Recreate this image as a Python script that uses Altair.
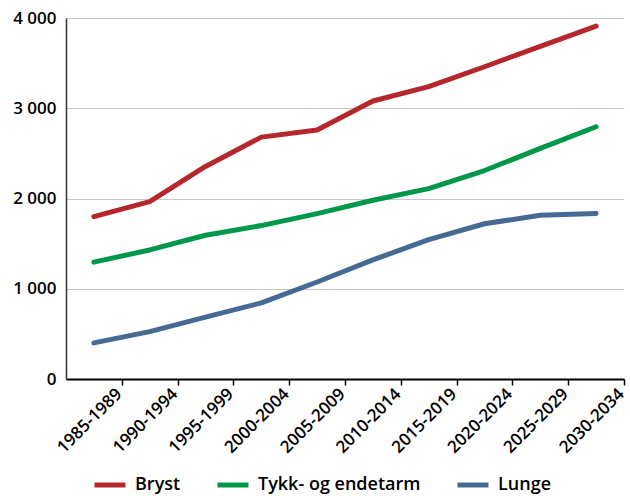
import altair as alt
import pandas as pd

# Five-year periods on the x axis
periods = [
    "1985-1989", "1990-1994", "1995-1999", "2000-2004", "2005-2009",
    "2010-2014", "2015-2019", "2020-2024", "2025-2029", "2030-2034",
]

# New cases per period, by cancer site
bryst = [1800, 1965, 2355, 2680, 2760, 3080, 3240, 3460, 3685, 3910]
tykk = [1295, 1430, 1593, 1700, 1833, 1980, 2110, 2310, 2555, 2795]
lunge = [400, 525, 686, 843, 1075, 1320, 1545, 1720, 1815, 1835]

series_names = ["Bryst", "Tykk- og endetarm", "Lunge"]
series_colors = ["#b5272d", "#00974a", "#456a93"]

rows = []
for name, values in zip(series_names, [bryst, tykk, lunge]):
    for p, v in zip(periods, values):
        rows.append({"periode": p, "antall": v, "type": name})
df = pd.DataFrame(rows)

FONT = "Open Sans"
PLOT_W = 558
PLOT_H = 361
STEP = PLOT_W / len(periods)

chart = (
    alt.Chart(df)
    .mark_line(strokeWidth=5, strokeCap="round", strokeJoin="round")
    .encode(
        x=alt.X(
            "periode:N",
            sort=periods,
            scale=alt.Scale(type="point", padding=0.5),
            axis=alt.Axis(
                title=None,
                labelAngle=-45,
                labelAlign="right",
                labelBaseline="middle",
                labelFont=FONT,
                labelFontSize=17,
                labelFontWeight=600,
                labelColor="#000000",
                labelPadding=6,
                labelOffset=-3,
                labelLimit=0,
                tickOffset=STEP / 2,
                tickSize=6,
                tickWidth=1.5,
                tickColor="#000000",
                domainColor="#000000",
                domainWidth=2,
                grid=False,
            ),
        ),
        y=alt.Y(
            "antall:Q",
            scale=alt.Scale(domain=[0, 4000], nice=False),
            axis=alt.Axis(
                title=None,
                values=[0, 1000, 2000, 3000, 4000],
                labelExpr="replace(format(datum.value, ','), ',', ' ')",
                labelFont=FONT,
                labelFontSize=17,
                labelFontWeight=600,
                labelColor="#000000",
                labelPadding=10,
                ticks=False,
                domainColor="#333333",
                domainWidth=1.5,
                grid=True,
                gridColor="#c8c8c8",
                gridWidth=1,
            ),
        ),
        color=alt.Color(
            "type:N",
            sort=series_names,
            scale=alt.Scale(domain=series_names, range=series_colors),
            legend=alt.Legend(
                title=None,
                orient="none",
                direction="horizontal",
                legendX=26,
                legendY=449,
                symbolType="stroke",
                symbolSize=961,
                symbolStrokeWidth=5,
                labelFont=FONT,
                labelFontSize=18,
                labelFontWeight=600,
                labelColor="#000000",
                labelOffset=7,
                labelLimit=0,
                columnPadding=26,
            ),
        ),
    )
    .properties(
        width=PLOT_W,
        height=PLOT_H,
        autosize=alt.AutoSizeParams(type="none"),
        padding={"left": 66, "top": 18, "right": 6, "bottom": 117},
    )
    .configure_view(stroke=None)
)

chart.save("out.html", embed_options={"renderer": "svg", "actions": False})
